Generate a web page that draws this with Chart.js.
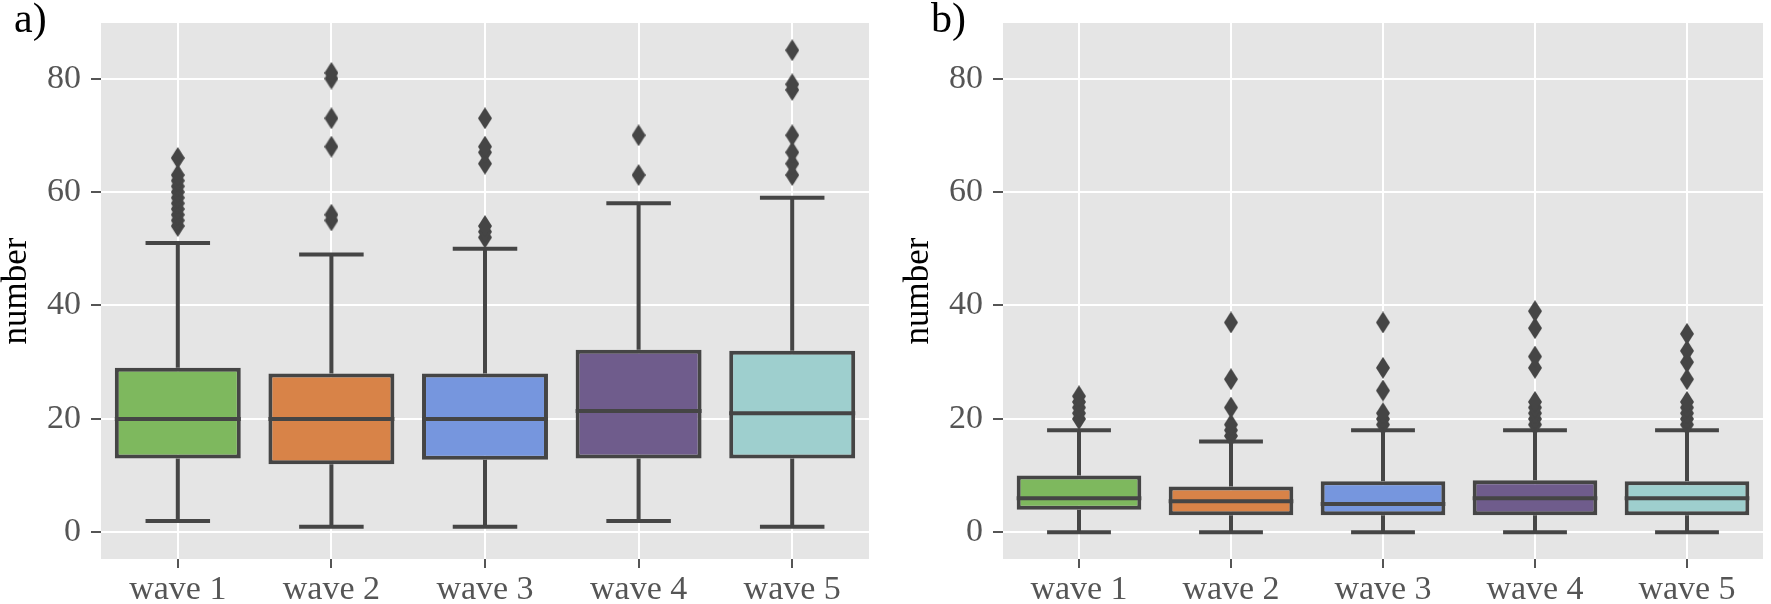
<!DOCTYPE html>
<html>
<head>
<meta charset="utf-8">
<script src="https://cdn.jsdelivr.net/npm/chart.js@4"></script>
<style>
  body { margin: 0; background: #fff; }
  #wrap { position: relative; width: 1771px; height: 604px; overflow: hidden; }
  canvas { position: absolute; top: 0; }
  .tag { position: absolute; top: -3px; font: 42px 'Liberation Serif', serif; line-height: 1; color: #000; }
</style>
</head>
<body>
<div id="wrap">
  <canvas id="chartA" width="885" height="604" style="left:0"></canvas>
  <canvas id="chartB" width="869" height="604" style="left:902px"></canvas>
  <div class="tag" style="left:14px">a)</div>
  <div class="tag" style="left:931px">b)</div>
</div>
<script>
// categories and tick values
const categories = ['wave 1', 'wave 2', 'wave 3', 'wave 4', 'wave 5'];
const yTicks = [0, 20, 40, 60, 80];

// panel a) box stats
const aLow = [2, 1, 1, 2, 1];
const aQ1 = [13, 12, 12.8, 13, 13];
const aMedian = [20, 20, 20, 21.4, 21];
const aQ3 = [29, 28, 28, 32.2, 32];
const aHigh = [51, 49, 50, 58, 59];
const aOutliers = [
  [54, 55, 56, 57, 58, 59, 60, 61, 62, 63, 66],
  [55, 56, 68, 73, 80, 81],
  [52, 53, 54, 65, 67, 68, 73],
  [63, 70],
  [63, 65, 67, 70, 78, 79, 85]
];

// panel b) box stats
const bLow = [0, 0, 0, 0, 0];
const bQ1 = [4, 3, 3, 3, 3];
const bMedian = [6, 5.5, 5, 6, 6];
const bQ3 = [10, 8.1, 9, 9.2, 9];
const bHigh = [18, 16, 18, 18, 18];
const bOutliers = [
  [20, 21, 22, 23, 24],
  [17, 18, 19, 22, 27, 37],
  [19, 20, 21, 25, 29, 37],
  [19, 20, 21, 22, 23, 29, 31, 36, 39],
  [19, 20, 21, 22, 23, 27, 30, 32, 35]
];

const boxColors = ['#7EB85E', '#D88348', '#7696DE', '#6F5C8C', '#9ECFCE'];
const lineColor = '#454545';
const lineWidth = 4;
const fontFamily = "'Liberation Serif', serif";

// thin diamond marker for the fliers
const diamond = document.createElement('canvas');
diamond.width = 14;
diamond.height = 22;
const dctx = diamond.getContext('2d');
dctx.fillStyle = lineColor;
dctx.beginPath();
dctx.moveTo(7, 0);
dctx.lineTo(14, 11);
dctx.lineTo(7, 22);
dctx.lineTo(0, 11);
dctx.closePath();
dctx.fill();

const panelBg = {
  id: 'panelBg',
  beforeDraw(chart) {
    const {ctx, chartArea: a} = chart;
    ctx.save();
    ctx.fillStyle = '#E5E5E5';
    ctx.fillRect(a.left, a.top, a.right - a.left, a.bottom - a.top);
    ctx.restore();
  }
};

// whiskers, caps and median lines, placed with the chart's scales
function boxParts(low, median, high, q1, q3) {
  return {
    id: 'boxParts',
    beforeDatasetsDraw(chart) {
      const {ctx, scales: {x, y}} = chart;
      ctx.save();
      ctx.strokeStyle = lineColor;
      ctx.lineWidth = lineWidth;
      categories.forEach((c, i) => {
        const cx = x.getPixelForValue(i);
        const left = x.getPixelForValue(i - 0.21);
        const right = x.getPixelForValue(i + 0.21);
        const yLo = y.getPixelForValue(low[i]);
        const yHi = y.getPixelForValue(high[i]);
        ctx.beginPath();
        ctx.moveTo(cx, y.getPixelForValue(q3[i]));
        ctx.lineTo(cx, yHi);
        ctx.moveTo(cx, y.getPixelForValue(q1[i]));
        ctx.lineTo(cx, yLo);
        ctx.moveTo(left, yHi);
        ctx.lineTo(right, yHi);
        ctx.moveTo(left, yLo);
        ctx.lineTo(right, yLo);
        ctx.stroke();
      });
      ctx.restore();
    },
    afterDatasetsDraw(chart) {
      const {ctx, scales: {y}} = chart;
      const bars = chart.getDatasetMeta(0).data;
      ctx.save();
      ctx.strokeStyle = lineColor;
      ctx.lineWidth = lineWidth;
      bars.forEach((bar, i) => {
        const ym = y.getPixelForValue(median[i]);
        ctx.beginPath();
        ctx.moveTo(bar.x - bar.width / 2, ym);
        ctx.lineTo(bar.x + bar.width / 2, ym);
        ctx.stroke();
      });
      ctx.restore();
    }
  };
}

function makePanel(id, low, q1, median, q3, high, outliers, padRight) {
  const fliers = [];
  outliers.forEach((list, i) => {
    list.forEach(v => fliers.push({x: categories[i], y: v}));
  });

  return new Chart(document.getElementById(id), {
    type: 'bar',
    data: {
      labels: categories,
      datasets: [{
        data: q1.map((v, i) => [v, q3[i]]),
        backgroundColor: boxColors,
        borderColor: lineColor,
        borderWidth: lineWidth,
        borderSkipped: false,
        barPercentage: 0.82,
        categoryPercentage: 1.0
      }, {
        type: 'scatter',
        data: fliers,
        pointStyle: diamond,
        pointRadius: 7,
        backgroundColor: lineColor,
        borderColor: lineColor
      }]
    },
    options: {
      responsive: false,
      animation: false,
      layout: { padding: { left: 0, right: padRight, top: 23, bottom: 0 } },
      plugins: { legend: { display: false }, tooltip: { enabled: false } },
      scales: {
        x: {
          offset: true,
          grid: { offset: false, color: '#fff', lineWidth: 2, tickColor: '#555', tickWidth: 2, tickLength: 9 },
          border: { display: false },
          ticks: { color: '#555', font: { family: fontFamily, size: 34 }, padding: 2 },
          afterFit: s => { s.height = 45; s.paddingLeft = 0; s.paddingRight = 0; }
        },
        y: {
          min: -4.7,
          max: 89.8,
          afterBuildTicks: s => { s.ticks = yTicks.map(v => ({ value: v })); },
          grid: { color: '#fff', lineWidth: 2, tickColor: '#555', tickWidth: 2, tickLength: 10 },
          border: { display: false },
          ticks: { color: '#555', font: { family: fontFamily, size: 34 }, padding: 10 },
          title: { display: true, text: 'number', color: '#000', font: { family: fontFamily, size: 35 }, padding: { top: -4, bottom: 0 } },
          afterFit: s => { s.width = 101; s.paddingTop = 0; s.paddingBottom = 0; }
        }
      }
    },
    plugins: [panelBg, boxParts(low, median, high, q1, q3)]
  });
}

makePanel('chartA', aLow, aQ1, aMedian, aQ3, aHigh, aOutliers, 16);
makePanel('chartB', bLow, bQ1, bMedian, bQ3, bHigh, bOutliers, 1);
</script>
</body>
</html>
